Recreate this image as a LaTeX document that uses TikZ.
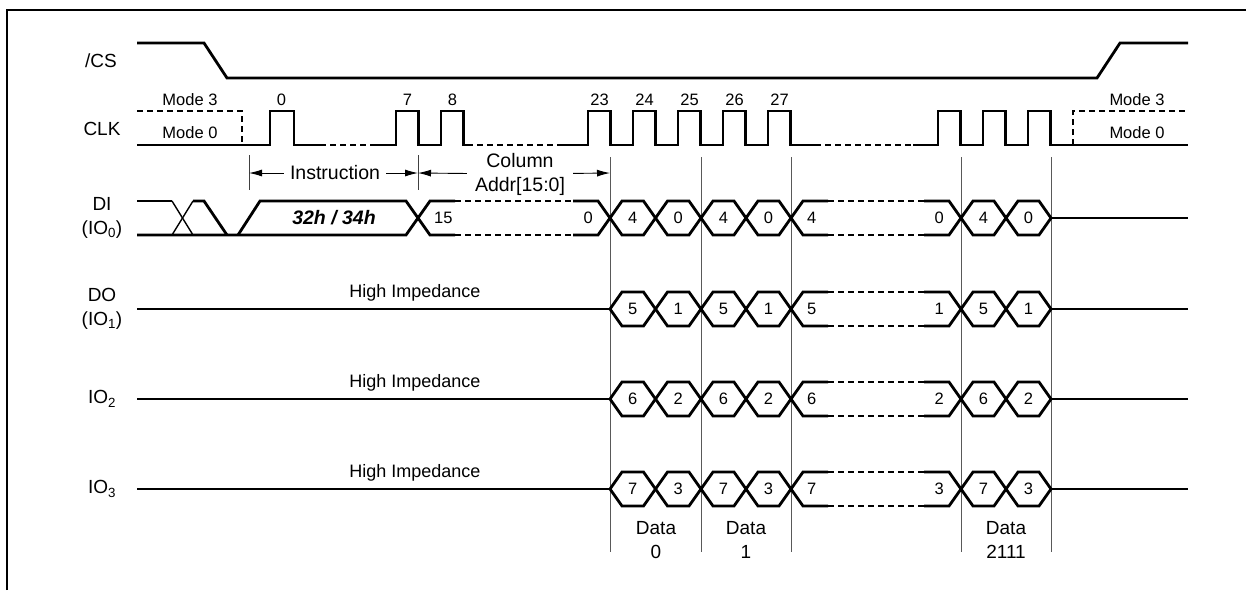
\documentclass[tikz,border=0pt]{standalone}
\usepackage{fontspec}
\setmainfont{Liberation Sans}
\usepackage{tikz}
\usetikzlibrary{arrows.meta}
\usetikzlibrary{calc,positioning}
\tikzset{%
  >={Latex[width=7pt,length=13pt]},
  % Specifications for style of lines and nodes:
  wave/.style = {line width=2.8pt, line join=miter, line cap=butt},
  wavedash/.style = {wave, dash pattern=on 6pt off 4pt},
  wavethin/.style = {line width=1.4pt},
  guide/.style = {line width=0.9pt, draw=black!65},
  tickline/.style = {line width=0.8pt, draw=black!75},
  dimarrow/.style = {->, line width=0.9pt},
  signame/.style = {align=center, inner sep=0pt,
    font=\fontsize{19}{24}\selectfont},
  note/.style = {align=center, inner sep=1pt,
    font=\fontsize{19.5}{24}\selectfont},
  hiztext/.style = {inner sep=0pt, font=\fontsize{18}{20}\selectfont},
  modetext/.style = {inner sep=0pt, font=\fontsize{16.5}{20}\selectfont},
  digit/.style = {inner sep=0pt, font=\fontsize{16.5}{20}\selectfont},
}
% one data cell on a bus: left x, right x, middle y, name, text
\newcommand{\busval}[5]{%
  \draw[wave] (#1,#3) -- (#1+12,#3-17) -- (#2-12,#3-17) -- (#2,#3)
    -- (#2-12,#3+17) -- (#1+12,#3+17) -- cycle;
  \node[digit] (#4) at ({(#1+#2)/2},#3) {#5};
}
% a long bus cell with dashed middle: left x, right x, middle y, name, left text, right text
\newcommand{\buslong}[6]{%
  \draw[wave] (#1+37,#3-17) -- (#1+12,#3-17) -- (#1,#3)
    -- (#1+12,#3+17) -- (#1+37,#3+17);
  \draw[wavedash] (#1+37,#3-17) -- (#2-37,#3-17);
  \draw[wavedash] (#1+37,#3+17) -- (#2-37,#3+17);
  \draw[wave] (#2-37,#3-17) -- (#2-12,#3-17) -- (#2,#3)
    -- (#2-12,#3+17) -- (#2-37,#3+17);
  \node[digit, anchor=west] (#4-first) at (#1+16,#3) {#5};
  \node[digit, anchor=east] (#4-last) at (#2-17,#3) {#6};
}

\begin{document}
\begin{tikzpicture}[x=1pt, y=-1pt]
  \useasboundingbox (0,0) rectangle (1246,590);
  % frame
  \draw[line width=2.6pt] (7,590) -- (7,10) -- (1246,10);

  % Specification of signal names
  \node[signame] (lbl-cs) at (101,61) {/CS};
  \node[signame] (lbl-clk) at (102,129) {CLK};
  \node[signame] (lbl-di) at (102,218) {DI\\(IO\textsubscript{0})};
  \node[signame] (lbl-do) at (102,309) {DO\\(IO\textsubscript{1})};
  \node[signame] (lbl-iotwo) at (102,399) {IO\textsubscript{2}};
  \node[signame] (lbl-iothree) at (102,489) {IO\textsubscript{3}};

  % guide lines
  \foreach \gx in {610,701,791,961,1051}
    \draw[guide] (\gx,157) -- (\gx,552);

  % /CS
  \draw[wave] (137,43) -- (204,43) -- (227,78) -- (1097,78) -- (1120,43) -- (1188,43);

  % CLK
  \draw[wavedash] (137,111) -- (242,111) -- (242,145);
  \draw[wavedash] (1073,145) -- (1073,111) -- (1188,111);
  \draw[wave] (137,145) -- (270,145) -- (270,111) -- (294,111) -- (294,145) -- (320,145);
  \draw[wavedash] (320,145) -- (373,145);
  \draw[wave] (373,145) foreach \r in {396,441} {
    -- (\r,145) -- (\r,111) -- (\r+22.5,111) -- (\r+22.5,145) } -- (467,145);
  \draw[wavedash] (467,145) -- (563,145);
  \draw[wave] (563,145) foreach \r in {588,633,678,723,768} {
    -- (\r,145) -- (\r,111) -- (\r+22.5,111) -- (\r+22.5,145) } -- (815,145);
  \draw[wavedash] (815,145) -- (913,145);
  \draw[wave] (913,145) foreach \r in {938,983,1028} {
    -- (\r,145) -- (\r,111) -- (\r+22.5,111) -- (\r+22.5,145) } -- (1188,145);
  \foreach \r/\n in {270/0,396/7,441/8,588/23,633/24,678/25,723/26,768/27}
    \node[digit] (clk-\n) at (\r+11.5,100) {\n};
  \node[modetext] (mode3-l) at (190,100) {Mode 3};
  \node[modetext] (mode0-l) at (190,133) {Mode 0};
  \node[modetext] (mode3-r) at (1137,100) {Mode 3};
  \node[modetext] (mode0-r) at (1137,133) {Mode 0};

  % Instruction and address spans
  \draw[tickline] (249,155) -- (249,190);
  \draw[tickline] (418,155) -- (418,190);
  \coordinate (span-a) at (249,173);
  \coordinate (span-b) at (418,173);
  \coordinate (span-c) at (610,173);
  \node[note, inner sep=6pt] (instr) at (335,173) {Instruction};
  \node[note, inner sep=8pt] (coladdr) at (520,174) {Column\\Addr[15:0]};
  \draw[dimarrow] (instr) -- (span-a);
  \draw[dimarrow] (instr) -- (span-b);
  \draw[dimarrow] (coladdr) -- (span-b);
  \draw[dimarrow] (coladdr) -- (span-c);

  % DI before data
  \draw[wave] (137,201) -- (172,201);
  \draw[wavethin] (172,201) -- (193,235);
  \draw[wavethin] (172,235) -- (193,201);
  \draw[wave] (193,201) -- (204,201) -- (227,235);
  \draw[wave] (137,235) -- (406,235) -- (418,218);
  \draw[wave] (238,235) -- (260,201) -- (406,201) -- (418,218);
  \node[note, font=\fontsize{19.5}{24}\selectfont\bfseries\itshape] (cmd) at (334,218) {32h / 34h};
  \buslong{418}{610}{218}{di-addr}{15}{0}

  % DO, IO2, IO3 before data
  \foreach \ym/\nm in {309/do,399/iotwo,489/iothree} {
    \draw[wave] (137,\ym) -- (610,\ym);
    \node[hiztext, anchor=base] (hiz-\nm) at (415,\ym-12) {High Impedance};
  }

  % data cells
  \foreach \ym/\a/\b/\nm in {218/4/0/di,309/5/1/do,399/6/2/iotwo,489/7/3/iothree} {
    \busval{610}{655.5}{\ym}{\nm-a}{\a}
    \busval{655.5}{701}{\ym}{\nm-b}{\b}
    \busval{701}{746}{\ym}{\nm-c}{\a}
    \busval{746}{791}{\ym}{\nm-d}{\b}
    \buslong{791}{961}{\ym}{\nm-mid}{\a}{\b}
    \busval{961}{1006}{\ym}{\nm-e}{\a}
    \busval{1006}{1051}{\ym}{\nm-f}{\b}
    \draw[wave] (1051,\ym) -- (1188,\ym);
  }

  % data byte names
  \node[signame] (data-0) at (656,540) {Data\\0};
  \node[signame] (data-1) at (746,540) {Data\\1};
  \node[signame] (data-last) at (1006,540) {Data\\2111};
\end{tikzpicture}
\end{document}
